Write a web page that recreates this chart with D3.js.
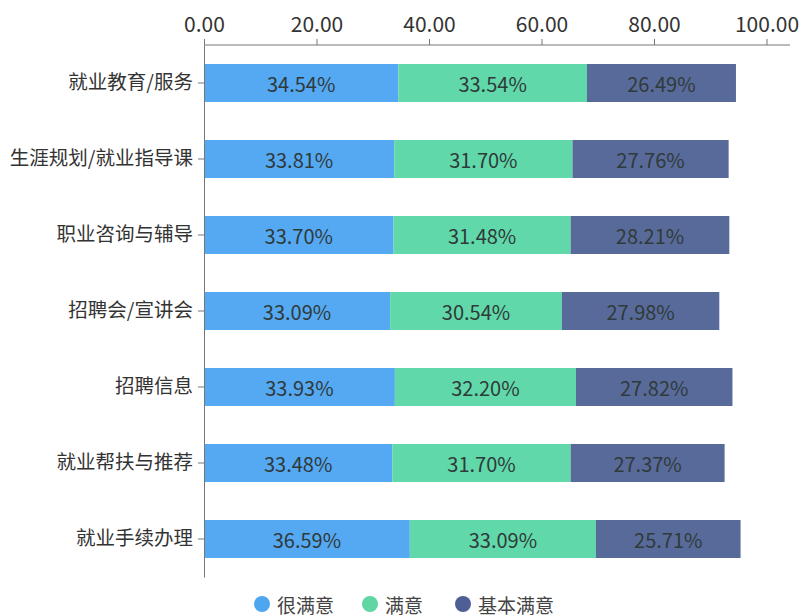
<!DOCTYPE html>
<html><head><meta charset="utf-8">
<script src="https://cdn.jsdelivr.net/npm/d3@7"></script>
<style>body{margin:0;background:#fff;} text{font-family:"Noto Sans CJK SC","Noto Sans",sans-serif;}</style>
</head><body>
<svg id="c" width="803" height="616"></svg>
<script>
const categories = ["就业教育/服务","生涯规划/就业指导课","职业咨询与辅导","招聘会/宣讲会","招聘信息","就业帮扶与推荐","就业手续办理"];
const seriesNames = ["很满意","满意","基本满意"];
const veryS = [34.54,33.81,33.70,33.09,33.93,33.48,36.59];
const satis = [33.54,31.70,31.48,30.54,32.20,31.70,33.09];
const basic = [26.49,27.76,28.21,27.98,27.82,27.37,25.71];
const tickValues = [0,20,40,60,80,100];
const colors = ["#55a9f2","#61d8a9","#586a99"];
const legendColors = ["#4fa6f0","#5fd6a4","#4d5f95"];

const svg = d3.select("#c");
const mLeft = 204, mRight = 766.5, mTop = 45, mBottom = 577;
const x = d3.scaleLinear().domain([0,100]).range([mLeft,mRight]);
const y = d3.scaleBand().domain(categories).range([mTop,mBottom]).paddingInner(0.5).paddingOuter(0.25);

const stackData = categories.map((c,i)=>({cat:c, a:veryS[i], b:satis[i], c2:basic[i]}));
const stack = d3.stack().keys(["a","b","c2"])(stackData);

stack.forEach((layer,k)=>{
  const g = svg.append("g");
  g.selectAll("rect").data(layer).join("rect")
    .attr("x",d=>x(d[0])).attr("width",d=>x(d[1])-x(d[0]))
    .attr("y",d=>y(d.data.cat)).attr("height",y.bandwidth())
    .attr("fill",colors[k]);
  g.selectAll("text").data(layer).join("text")
    .attr("x",d=>(x(d[0])+x(d[1]))/2).attr("y",d=>y(d.data.cat)+y.bandwidth()/2)
    .attr("text-anchor","middle").attr("dominant-baseline","central")
    .attr("font-size",20).attr("fill","#2f3a3a")
    .text(d=>(d[1]-d[0]).toFixed(2)+"%");
});

const xAxis = svg.append("g").attr("transform",`translate(0,${mTop})`)
  .call(d3.axisTop(x).tickValues(tickValues).tickFormat(d=>d.toFixed(2)).tickSize(6).tickSizeOuter(0).tickPadding(7));
xAxis.select(".domain").attr("stroke","#777").attr("d",`M${mLeft},0H${790}`);
xAxis.selectAll(".tick line").attr("stroke","#777");
xAxis.selectAll(".tick text").attr("font-size",21).attr("fill","#333")
  .style("font-family","'Noto Sans CJK SC','Noto Sans',sans-serif");

const yAxis = svg.append("g").attr("transform",`translate(${mLeft},0)`)
  .call(d3.axisLeft(y).tickSize(6).tickSizeOuter(0).tickPadding(5));
yAxis.select(".domain").attr("stroke","#777");
yAxis.selectAll(".tick line").attr("stroke","#777");
yAxis.selectAll(".tick text").attr("font-size",19.5).attr("fill","#333");

const lx = [262,370,463];
const lg = svg.append("g");
seriesNames.forEach((n,i)=>{
  lg.append("circle").attr("cx",lx[i]).attr("cy",604).attr("r",8).attr("fill",legendColors[i]);
  lg.append("text").attr("x",lx[i]+15).attr("y",604).attr("dominant-baseline","central")
    .attr("font-size",19).attr("fill","#444").text(n);
});
</script>
</body></html>
